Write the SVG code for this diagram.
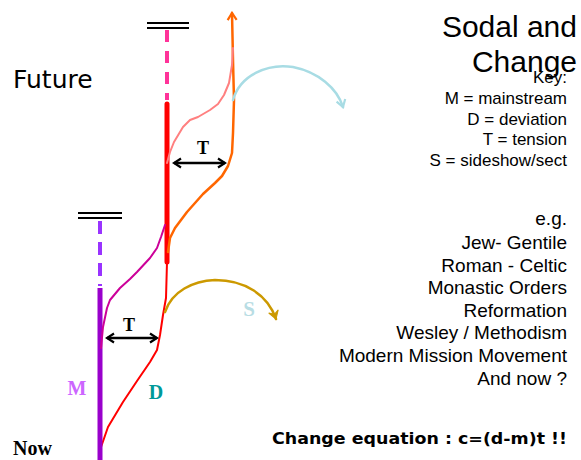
<svg xmlns="http://www.w3.org/2000/svg" width="581" height="460" viewBox="0 0 581 460">
<style>
.bar{stroke:#000;stroke-width:2}
.serifb{font-family:"Liberation Serif",serif;font-weight:bold}
.sans{font-family:"Liberation Sans",Arial,sans-serif;fill:#000}
.key{font-size:17px;text-anchor:end}
.eg{font-size:19px;text-anchor:end}
.t{fill:none;stroke-linejoin:round;stroke-linecap:round}
</style>
<defs>
<marker id="chev" viewBox="-10 -6 12 12" markerWidth="12" markerHeight="12" refX="0" refY="0" orient="auto-start-reverse" markerUnits="userSpaceOnUse">
<path d="M-7,-4.5 L0,0 L-7,4.5" fill="none" stroke="#000" stroke-width="2.2"/>
</marker>
<marker id="chevO" viewBox="-10 -6 12 12" markerWidth="12" markerHeight="12" refX="0" refY="0" orient="auto" markerUnits="userSpaceOnUse">
<path d="M-7,-4.5 L0,0 L-7,4.5" fill="none" stroke="#ff6600" stroke-width="2.2"/>
</marker>
<marker id="chevB" viewBox="-10 -6 12 12" markerWidth="12" markerHeight="12" refX="0" refY="0" orient="auto" markerUnits="userSpaceOnUse">
<path d="M-7,-4.5 L0,0 L-7,4.5" fill="none" stroke="#a8dce4" stroke-width="2.2"/>
</marker>
<marker id="triG" viewBox="-10 -6 12 12" markerWidth="12" markerHeight="12" refX="0" refY="0" orient="auto" markerUnits="userSpaceOnUse">
<path d="M-8,-5 L0,0 L-8,5 L-5,0 Z" fill="#cc9900" stroke="#cc9900" stroke-width="1"/>
</marker>
</defs>

<g id="titles">
<text class="sans" x="577" y="37" font-size="30" text-anchor="end">Sodal and</text>
<text class="sans" x="577" y="72" font-size="30" text-anchor="end">Change</text>
<text x="13" y="88" font-family="DejaVu Sans,sans-serif" font-size="25" fill="#000">Future</text>
<text class="serifb" x="13" y="455" font-size="20" fill="#000">Now</text>
</g>

<g id="key">
<text class="sans key" x="567" y="83">Key:</text>
<text class="sans key" x="567" y="104">M = mainstream</text>
<text class="sans key" x="567" y="125">D = deviation</text>
<text class="sans key" x="567" y="145">T = tension</text>
<text class="sans key" x="567" y="166">S = sideshow/sect</text>
</g>

<g id="examples">
<text class="sans eg" x="567" y="225">e.g.</text>
<text class="sans eg" x="567" y="249">Jew- Gentile</text>
<text class="sans eg" x="567" y="272">Roman - Celtic</text>
<text class="sans eg" x="567" y="294">Monastic Orders</text>
<text class="sans eg" x="567" y="317">Reformation</text>
<text class="sans eg" x="567" y="339">Wesley / Methodism</text>
<text class="sans eg" x="567" y="362">Modern Mission Movement</text>
<text class="sans eg" x="567" y="385">And now ? </text>
</g>

<g id="equation">
<text x="272" y="444" font-family="DejaVu Sans,sans-serif" font-weight="bold" font-size="16" textLength="295" lengthAdjust="spacingAndGlyphs" fill="#000">Change equation : c=(d-m)t !!</text>
</g>

<g id="connectors">
<!-- top bars -->
<line class="bar" x1="147" y1="23" x2="189" y2="23"/>
<line class="bar" x1="147" y1="28" x2="189" y2="28"/>
<line class="bar" x1="78" y1="213" x2="122" y2="213"/>
<line class="bar" x1="78" y1="218" x2="122" y2="218"/>
<!-- pink dashed -->
<line x1="167" y1="30" x2="167" y2="100" stroke="#ff3399" stroke-width="4" stroke-dasharray="12,9"/>
<!-- purple dashed -->
<line x1="100" y1="221" x2="100" y2="286" stroke="#9933ff" stroke-width="4" stroke-dasharray="13,8"/>
<!-- D line -->
<path class="t" d="M100,450 L108,427 L123,402 L137,381 L150,362 L157,350 L160,335 L163,315 L166,298 L167,262 L167,200" stroke="#ff0000" stroke-width="2"/>
<!-- red thick -->
<line x1="167" y1="104" x2="167" y2="262" stroke="#ff0000" stroke-width="5" stroke-linecap="round"/>
<!-- purple thick M -->
<line x1="100" y1="288" x2="100" y2="460" stroke="#9900cc" stroke-width="5"/>
<!-- magenta M curve -->
<path class="t" d="M101,348 L103,327 L107,308 L110,300 L120,288 L130,279 L137,272 L150,258 L157,248 L161,237 L165,225" stroke="#cc0099" stroke-width="2"/>
<!-- orange curve -->
<path class="t" d="M168,252 L170,238 L175,228 L187,212 L203,194 L215,183 L222,176 L228,166 L232,153 L233,133 L234,100 L233,60 L232,13" stroke="#ff6600" stroke-width="2.5" marker-end="url(#chevO)"/>
<!-- salmon curve -->
<path class="t" d="M167,163 L170,152 L174,142 L183,127 L190,120 L198,117 L210,110 L218,104 L224,95 L229,83 L232,65 L233,48" stroke="#ff8080" stroke-width="2"/>
<!-- light blue arc -->
<path class="t" d="M233,100 C240,75 268,63 293,67 C318,72 337,88 343,107" stroke="#a8dce4" stroke-width="2.5" marker-end="url(#chevB)"/>
<!-- gold arc -->
<path class="t" d="M165,312 C172,291 193,281 215,280 C245,280 268,295 276,319" stroke="#cc9900" stroke-width="2.5" marker-end="url(#triG)"/>
<!-- tension arrows -->
<line x1="174" y1="163" x2="225" y2="163" stroke="#000" stroke-width="2.5" marker-start="url(#chev)" marker-end="url(#chev)"/>
<line x1="107" y1="338" x2="157" y2="338" stroke="#000" stroke-width="2.5" marker-start="url(#chev)" marker-end="url(#chev)"/>
</g>

<g id="labels">
<text class="serifb" x="203" y="154" font-size="18" text-anchor="middle" fill="#000">T</text>
<text class="serifb" x="129" y="331" font-size="18" text-anchor="middle" fill="#000">T</text>
<text class="serifb" x="77" y="395" font-size="20" text-anchor="middle" fill="#cc66ff">M</text>
<text class="serifb" x="156" y="399" font-size="20" text-anchor="middle" fill="#009999">D</text>
<text class="serifb" x="249" y="316" font-size="21" text-anchor="middle" fill="#b8dde4">S</text>
</g>
</svg>
